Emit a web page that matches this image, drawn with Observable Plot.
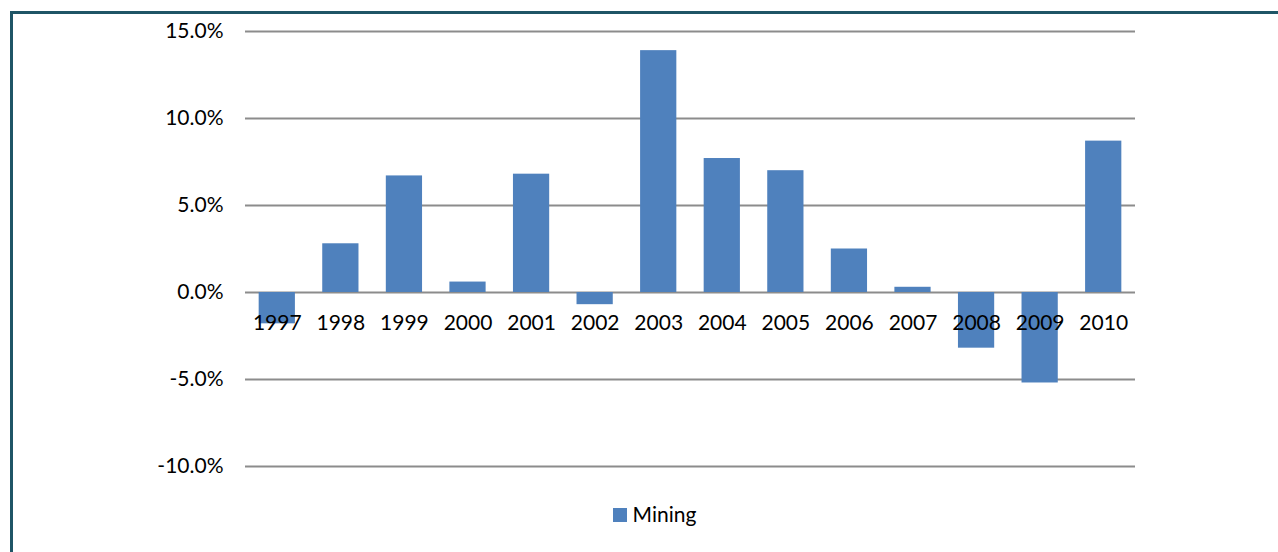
<!DOCTYPE html>
<html>
<head>
<meta charset="utf-8">
<script src="https://cdn.jsdelivr.net/npm/d3@7"></script>
<script src="https://cdn.jsdelivr.net/npm/@observablehq/plot@0.6"></script>
<style>
  html, body { margin: 0; padding: 0; background: #fff; }
  body { width: 1278px; height: 552px; position: relative; overflow: hidden; font-family: Lato, "Open Sans", sans-serif; }
  #frameLeft { position: absolute; left: 10px; top: 11px; width: 3px; height: 541px; background: #1f5566; }
  #frameTop { position: absolute; left: 10px; top: 11px; width: 1268px; height: 3px; background: #1f5566; }
  #chart { position: absolute; left: 0; top: 0; }
  #legend { position: absolute; left: 0; top: 501px; width: 1278px; text-align: center; font-size: 21px; color: #000; box-sizing: border-box; padding-left: 31px; }
  #legend .sw { display: inline-block; width: 14px; height: 14px; background: #4f81bd; margin-right: 6px; vertical-align: 0px; }
</style>
</head>
<body>
<div id="chart"></div>
<div id="frameLeft"></div>
<div id="frameTop"></div>
<div id="legend"></div>
<script>
const years = ["1997","1998","1999","2000","2001","2002","2003","2004","2005","2006","2007","2008","2009","2010"];
const mining = [-1.8, 2.8, 6.7, 0.6, 6.8, -0.7, 13.9, 7.7, 7.0, 2.5, 0.3, -3.2, -5.2, 8.7];
const yTicks = [-10, -5, 0, 5, 10, 15];
const seriesName = "Mining";
const barColor = "#4f81bd";

const data = years.map((y, i) => ({year: y, value: mining[i]}));

const chart = Plot.plot({
  width: 1278,
  height: 490,
  marginLeft: 245,
  marginRight: 143,
  marginTop: 31,
  marginBottom: 24,
  style: {fontFamily: "Lato, 'Open Sans', sans-serif", fontSize: "21px", color: "#000", background: "transparent"},
  x: {domain: years, paddingInner: 0.43, paddingOuter: 0.215, round: false, axis: null, label: null},
  y: {domain: [-10, 15], ticks: yTicks, axis: null, label: null},
  marks: [
    Plot.ruleY(yTicks, {stroke: "#8c8c8c", strokeWidth: 2}),
    Plot.barY(data, {x: "year", y: "value", fill: barColor}),
    Plot.axisY({ticks: yTicks, tickSize: 0, tickPadding: 22, label: null, tickFormat: d => d.toFixed(1) + "%", fontSize: 21, fill: "#000"}),
    Plot.text(data, {x: "year", y: () => 0, text: "year", dy: 31, fontSize: 21, fill: "#000"})
  ]
});
document.getElementById("chart").appendChild(chart);

const legend = document.getElementById("legend");
legend.innerHTML = `<span class="sw"></span>${seriesName}`;
</script>
</body>
</html>
